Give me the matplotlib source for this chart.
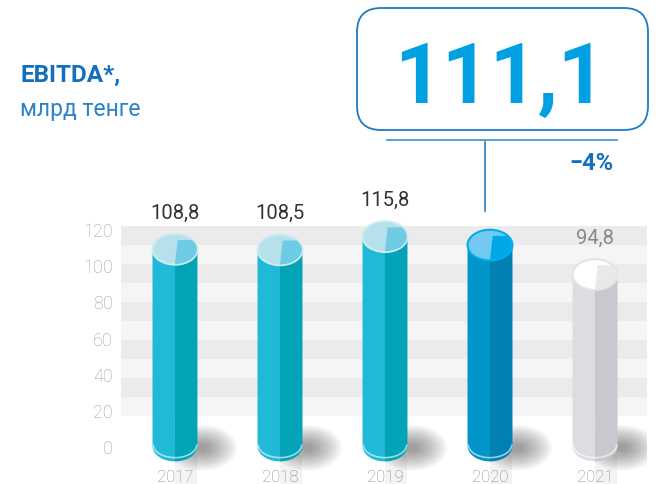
import matplotlib.pyplot as plt
import numpy as np
from matplotlib.patches import Ellipse, Polygon, Rectangle, FancyBboxPatch, Arc

plt.rcParams['font.family'] = ['Roboto', 'DejaVu Sans']

years = ['2017', '2018', '2019', '2020', '2021']
ebitda = [108.8, 108.5, 115.8, 111.1, 94.8]
highlight = '111,1'
change = '−4%'

# colours per bar: body left, body right, cap, cap wedge, cap rim
teal = ('#20b9d7', '#03a4b7', '#b6e1ea', '#6ecbe4', '#cdebf1')
blue = ('#0094c9', '#0080b3', '#73c9f2', '#00a8e6', '#00aeea')
grey = ('#dcdce1', '#c8c8ce', '#ffffff', '#e9e9eb', '#e4e4e7')
styles = [teal, teal, teal, blue, grey]
label_colors = ['#333333', '#333333', '#333333', None, '#8a8a8a']

fig = plt.figure(figsize=(6.58, 4.85), dpi=100)
ax = fig.add_axes([121 / 658, 0, 526 / 658, 1])
ax.set_xlim(-0.514, 4.495)
ax.set_ylim(-21.0, 247.2)
for s in ax.spines.values():
    s.set_visible(False)

# striped background
b0, bh = 16.6, 10.48
for i in range(10):
    c = '#f5f5f5' if i % 2 == 0 else '#ebebeb'
    ax.add_patch(Rectangle((-0.514, b0 + i * bh), 5.01, bh, color=c, zorder=0, lw=0))

ax.set_yticks(range(0, 121, 20))
ax.set_xticks([])
ax.tick_params(axis='y', length=0, pad=6, labelsize=13, labelcolor='#a0a0a0')
for t in ax.get_yticklabels():
    t.set_fontweight('light')

w = 0.214   # half width (x units)
h = 8.5     # half height of ellipse (y units)

for i, (yr, v, st) in enumerate(zip(years, ebitda, styles)):
    left, right, cap, wedge, rim = st
    # floor reflection + shadow
    ax.add_patch(Rectangle((i, -25), w, 20, color='#f3f3f3', lw=0, zorder=0.5))
    for k in range(10):
        f = 1 - k / 11
        ax.add_patch(Ellipse((i + 0.26, -1.0), 0.66 * f, 25 * f, color='black',
                             alpha=0.045, lw=0, zorder=1))
    # body
    a1 = np.linspace(np.pi, 1.5 * np.pi, 40)
    pl = [(i, v), (i - w, v)] + [(i + w * np.cos(a), h * np.sin(a)) for a in a1] + [(i, -h)]
    ax.add_patch(Polygon(pl, closed=True, color=left, lw=0, zorder=2))
    a2 = np.linspace(1.5 * np.pi, 2 * np.pi, 40)
    pr = [(i, v), (i, -h)] + [(i + w * np.cos(a), h * np.sin(a)) for a in a2] + [(i + w, v)]
    ax.add_patch(Polygon(pr, closed=True, color=right, lw=0, zorder=2))
    ax.add_patch(Arc((i, 0.8), 2 * w * 0.97, 2 * h * 0.85, theta1=180, theta2=360,
                     color='white', alpha=0.6, lw=1.2, zorder=2.5))
    # cap
    ax.add_patch(Ellipse((i, v), 2 * w, 2 * h, facecolor=cap, edgecolor=rim, lw=1.5, zorder=3))
    a3 = np.linspace(np.radians(40), np.radians(-90), 50)
    pw = [(i + 0.12 * w, v + 0.6 * h)] + [(i + w * 0.97 * np.cos(a), v + h * 0.95 * np.sin(a)) for a in a3]
    ax.add_patch(Polygon(pw, closed=True, color=wedge, lw=0, zorder=3.5))
    # labels
    if label_colors[i]:
        ax.text(i, v + 20.5, f'{v:.1f}'.replace('.', ','), ha='center', va='center',
                fontsize=14.5, color=label_colors[i], zorder=5)
    ax.text(i, -19.6, yr, ha='center', va='baseline', fontsize=12, color='#888888',
            fontweight='light', zorder=5)

# overlay in pixel coordinates
ov = fig.add_axes([0, 0, 1, 1])
ov.set_xlim(0, 658)
ov.set_ylim(485, 0)
ov.axis('off')

ov.text(20, 81.5, 'EBITDA*,', fontsize=17.5, fontweight='bold', color='#1470bd', va='baseline')
ov.text(20, 116, 'млрд тенге', fontsize=16.5, color='#2b82c8', va='baseline')

ov.add_patch(FancyBboxPatch((357, 9), 291, 122, boxstyle='round,pad=0,rounding_size=24',
                            facecolor='white', edgecolor='#1f7cc2', lw=1.3))
ov.text(500, 103, highlight, fontsize=60, fontweight='bold', color='#00a0e3',
        ha='center', va='baseline')
ov.plot([387, 617], [141, 141], color='#3a8fd0', lw=1.2)
ov.plot([485, 485], [143, 212], color='#2a7fc0', lw=1.2)
ov.text(613, 170, change, fontsize=17, fontweight='bold', color='#1470bd',
        ha='right', va='baseline')

fig.savefig('out.png', dpi=100)
